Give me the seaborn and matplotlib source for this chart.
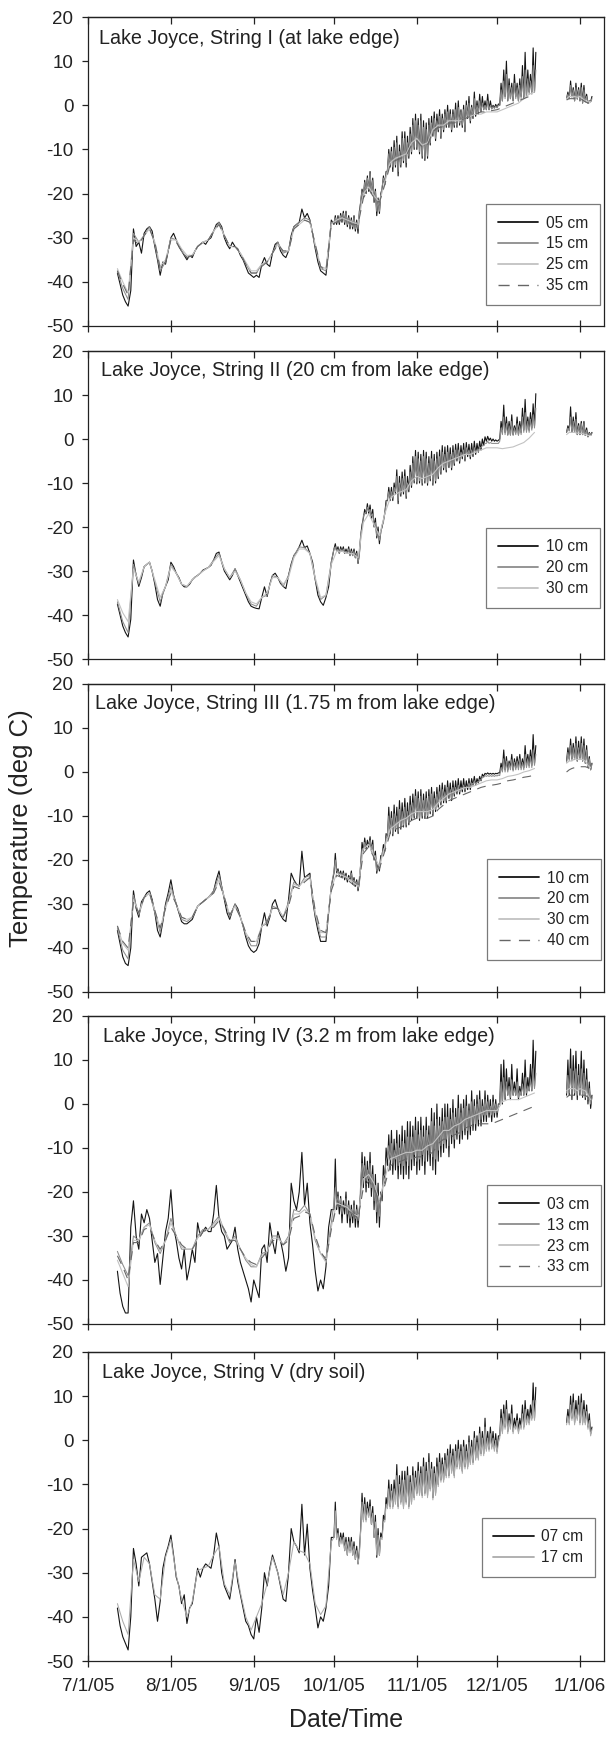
import numpy as np
import pandas as pd
import matplotlib
matplotlib.use("Agg")
import matplotlib.pyplot as plt
import matplotlib.dates as mdates
from matplotlib.lines import Line2D
from matplotlib.ticker import FuncFormatter
import seaborn as sns

sns.set_theme(style="white")
plt.rcParams["font.family"] = ["Liberation Sans", "DejaVu Sans"]
plt.rcParams["text.color"] = "#222222"
plt.rcParams["axes.labelcolor"] = "#222222"
plt.rcParams["axes.unicode_minus"] = False

# ---------------- data (deg C), days counted from 7/1/05 ----------------
BASE = "2005-07-01"
WIN_DAYS = np.arange(11, 92)          # daily values, polar winter
SPR_DAYS = np.arange(92, 168)         # daily lows / highs, spring
JAN_DAYS = np.arange(179, 189)        # daily lows / highs after the gap
WIN_DAYS2 = np.arange(11, 92, 2)      # deeper sensors, winter
SPR_DAYS2 = np.arange(93, 168, 2)     # deepest sensors, spring

TITLES = ["Lake Joyce, String I (at lake edge)",
          "Lake Joyce, String II (20 cm from lake edge)",
          "Lake Joyce, String III (1.75 m from lake edge)",
          "Lake Joyce, String IV (3.2 m from lake edge)",
          "Lake Joyce, String V (dry soil)"]
LABELS = [["05 cm", "15 cm", "25 cm", "35 cm"],
          ["10 cm", "20 cm", "30 cm"],
          ["10 cm", "20 cm", "30 cm", "40 cm"],
          ["03 cm", "13 cm", "23 cm", "33 cm"],
          ["07 cm", "17 cm"]]

# ---- String I ----
P1_05_WIN = [-38, -40.5, -43, -44.5, -45.5, -42, -28, -32, -31, -33.5,
             -29, -28, -27.5, -28.5, -32, -35, -38.5, -35.5, -36, -33,
             -30, -29, -30.5, -32, -33, -34, -35, -34, -34.5, -33,
             -32, -31.5, -31, -31.5, -30.5, -30, -28.5, -27, -26.5, -27.5,
             -30, -31.5, -32.5, -31, -32, -32.5, -34, -35, -36.5, -38,
             -38.5, -39, -38.5, -39, -36, -34.5, -36, -36.5, -33.5, -31.5,
             -31, -33, -34, -34.5, -33, -29.5, -27.5, -27, -26.5, -23.5,
             -25.5, -24.5, -26, -29, -32.5, -35.5, -37.5, -38, -38.5, -33,
             -26]
P1_05_LO = [-27, -27, -27, -26.5, -27, -27.5, -28, -28, -28.5, -29,
            -22, -21, -20, -19.5, -20, -22, -25, -24.5, -19, -18,
            -15, -14, -15, -14, -16, -14, -13, -14, -12, -11,
            -10, -10, -11, -12, -12.5, -12, -9, -7, -8, -6,
            -7.5, -6, -5, -5, -6, -5, -5, -4.5, -5, -6,
            -3, -4, -3, -2.5, -2, -1.5, -1, -1, -1, -0.8,
            -0.6, -0.5, 0, 1, 2, 1, 1.5, 1, 2, 1,
            2, 1.5, 2, 3, 3, 3]
P1_05_HI = [-25, -25, -24.5, -24, -24, -25, -25.5, -25, -26, -24,
            -19, -17, -16, -15, -16.5, -19, -21, -20, -16, -15,
            -10, -9.5, -8, -7, -9, -6, -6, -7, -5, -3,
            -2, -3, -2, -3.5, -4, -3, -2.5, -1.5, -2, -1,
            -2, -1, 0, -1, -1, 0.5, 1, -1, 0, 1,
            2, 0, 3, 1, 2.5, 2, 1, 2.5, 1, 0,
            0.2, 0.3, 5, 8, 10, 6, 5, 7, 5, 6,
            9, 12, 8, 7, 13, 12]
P1_05_JLO = [1.5, 1.5, 2, 1, 1.5, 1, 0.5, 0.8, 0.5, 0.8]
P1_05_JHI = [3, 5.5, 4, 5, 4, 5, 4.5, 2.5, 1, 2]
P1_15_WIN = [-37.5, -41.5, -44, -29, -31, -29.5, -27.5, -31.5, -37.5, -35.5,
             -30, -30.5, -33, -34.5, -34, -32, -31, -30.5, -28.5, -26.5,
             -29.5, -32, -32, -33.5, -36, -38, -38, -36, -35.5, -33.5,
             -31, -33.5, -33, -27.5, -26.5, -25.5, -26, -32, -37, -37.5, -26.5]
P1_15_LO = [-26.5, -26.5, -26.5, -26, -26.5, -27, -27.5, -27.5, -28, -28,
            -21.5, -20.5, -19.5, -19, -19.5, -21.5, -24, -24, -18.5, -17.5,
            -14.5, -13.5, -14, -13.5, -15, -13.5, -12.5, -13, -11.5, -10.5,
            -9.5, -9.5, -10.5, -11.5, -12, -11.5, -8.5, -6.5, -7.5, -5.5,
            -7, -5.5, -4.5, -4.5, -5.5, -4.5, -4.5, -4, -4.5, -5.5,
            -2.5, -3.5, -2.5, -2, -1.5, -1.2, -1, -1, -1, -0.8,
            -0.7, -0.6, 0, 1, 1.5, 1, 1.5, 1, 1.5, 1,
            1.5, 1.5, 2, 2.5, 2.5, 3]
P1_15_HI = [-25.5, -25.5, -25, -24.5, -24.5, -25.5, -26, -25.5, -26.5, -25,
            -19.5, -17.5, -16.5, -15.5, -17, -19.5, -21.5, -20.5, -16.5, -15.5,
            -11, -10.5, -9.5, -8.5, -10.5, -7.5, -7.5, -8.5, -6.5, -4.5,
            -3.5, -4.5, -3.5, -5, -5.5, -4.5, -4, -3, -3.5, -2.5,
            -3, -2, -1.5, -2, -2, -1, -0.5, -1.5, -1, 0,
            0.5, -0.5, 1.5, 0, 1, 0.5, 0, 1, 0, -0.3,
            -0.2, 0, 3.5, 5.5, 7, 4.5, 4, 5, 4, 4.5,
            6.5, 8, 6, 5.5, 9, 8]
P1_15_JLO = [1.5, 1.5, 1.8, 1, 1.3, 1, 0.6, 0.8, 0.5, 0.8]
P1_15_JHI = [2.5, 4.5, 3.5, 4, 3.5, 4, 3.5, 2, 1, 1.5]
P1_25_WIN = [-37, -40, -42.5, -30, -31, -29.5, -28, -31, -36.5, -35,
             -30.5, -30.5, -32.5, -34, -34, -32, -31, -30.5, -28.5, -27,
             -29.5, -32, -32, -33.5, -35.5, -37.5, -37.5, -36, -35.5, -33.5,
             -31.5, -33, -33, -28, -27, -26, -26.5, -31.5, -36.5, -37, -27]
P1_25_SPR = [-26, -25.5, -26, -26.5, -27, -20, -18.5, -20.5, -22, -17.5,
             -13, -12, -11.5, -11, -8.5, -7.5, -9, -8.5, -5.5, -4.5,
             -4.5, -3.5, -3.5, -3.5, -3, -2.5, -2, -2, -1.5, -1.5,
             -1.5, -1, -0.5, 0, 0.5, 1.5, 2.5, 3]
P1_25_JAN = [1.5, 2, 2, 2, 1.8, 2, 1.5, 1, 0.8, 0.8]
P1_35_WIN = [-37.5, -40.5, -43, -30.5, -31.5, -29.5, -28, -31, -37, -35.5,
             -30.5, -31, -33, -34.5, -34, -32, -31, -30.5, -28.5, -27,
             -29.5, -32, -32, -33.5, -36, -38, -38, -36.5, -35.5, -33.5,
             -31.5, -33, -33, -28, -27, -26, -26.5, -31.5, -36.5, -37.5, -27]
P1_35_SPR = [-26.5, -26, -26.5, -27, -27, -21, -19, -21, -22, -18,
             -13.5, -12.5, -12, -11.5, -9, -8, -9.5, -9, -6, -5,
             -5, -4, -4, -3.5, -3, -2.5, -2, -1.5, -1.5, -1.2,
             -1, -0.5, 0, 0.5, 1, 1.5, 2, 2.5]
P1_35_JAN = [1.2, 1.5, 1.5, 1.5, 1.3, 1.5, 1.2, 0.8, 0.5, 0.5]

# ---- String II ----
P2_10_WIN = [-37.5, -40, -42.5, -44, -45, -41, -27.5, -31, -33.5, -31.5,
             -29, -28.5, -28, -30, -33, -36.5, -38, -35, -33.5, -32,
             -28, -29, -30.5, -31.5, -33, -33.6, -33.6, -33, -32, -31.4,
             -31, -30.5, -29.8, -29.5, -29.2, -28.7, -27.5, -26, -25.7, -28,
             -30, -31, -32, -31, -29.5, -31, -32.5, -34, -35.5, -37,
             -38, -38.3, -38.5, -38.6, -36, -33.6, -35.8, -33, -31, -30.5,
             -31.5, -32.8, -33.5, -34, -31, -28.4, -26.5, -25.7, -24.5, -23,
             -24.7, -24.3, -26, -28, -32, -35.5, -37, -37.8, -36, -33.6,
             -28]
P2_10_LO = [-25, -25.5, -26, -25.5, -26, -26, -26.5, -26.5, -27, -28.3,
            -22, -18, -17, -17, -18, -20, -22.5, -23.8, -20, -17,
            -14, -14, -14, -12.5, -14.7, -13, -12.5, -13.5, -12, -11,
            -10, -10.2, -10, -10.5, -10, -10.5, -9.5, -10.5, -10, -9,
            -8, -7, -7.5, -6.5, -7, -6, -5, -5.5, -4.5, -5,
            -4, -4.5, -4, -3.5, -3, -2.5, -1.5, -0.5, -0.3, -0.5,
            -0.5, -0.5, 0, 2, 1.5, 1, 1, 1, 1.5, 1,
            1.5, 2, 2, 2, 2.5, 3]
P2_10_HI = [-23.8, -24.5, -24.5, -24.5, -25, -24.5, -25, -25, -25.5, -26,
            -19.5, -16, -14.7, -15, -16, -18, -20, -21, -18.5, -14,
            -11, -11, -10, -7, -8.5, -7.5, -7, -8.5, -6, -4,
            -2.6, -3, -3.5, -2.6, -3, -4, -2.8, -3.5, -3, -2.5,
            -1.5, -1.8, -1.5, -2, -1.5, -1.2, -1, -1.5, -1, -0.8,
            -1.2, -1, -0.5, -1, -0.5, 0, 0.5, 0.6, 0.2, 0,
            -0.2, -0.3, 4, 7.7, 5, 4, 5.5, 3, 5, 4,
            7, 9, 5, 6, 8, 10.3]
P2_10_JLO = [1.5, 2, 1.5, 1.5, 1, 1, 1, 0.8, 0.5, 0.8]
P2_10_JHI = [3, 7.3, 5, 6, 3.5, 4, 4, 2.5, 1.5, 1.5]
P2_20_WIN = [-37, -41.5, -44, -28.5, -33, -29, -28, -32.5, -37, -33.5,
             -28.5, -30.5, -33, -33.5, -32, -31, -30, -29.2, -27.5, -26,
             -29.5, -31.5, -29.5, -32, -35, -37.5, -38, -36, -35.5, -31,
             -31.5, -33.5, -31, -26.5, -24.5, -24.7, -26, -32, -36.5, -35.5, -28]
P2_20_LO = [-25, -25.5, -26, -25.5, -26, -26, -26.5, -26.5, -27, -28,
            -21.5, -17.5, -16.5, -16.5, -17.5, -19.5, -22, -23, -19.5, -16.5,
            -13.5, -13.5, -13.5, -12, -14, -12.5, -12, -13, -11.5, -10.5,
            -9.5, -9.7, -9.5, -10, -9.5, -10, -9, -10, -9.5, -8.5,
            -7.5, -6.5, -7, -6, -6.5, -5.5, -4.5, -5, -4, -4.5,
            -3.5, -4, -3.5, -3, -2.5, -2, -1.5, -1, -1, -1,
            -1, -1, -0.5, 1, 1, 0.8, 0.8, 0.8, 1, 0.8,
            1, 1.5, 1.5, 1.5, 2, 2.5]
P2_20_HI = [-24.5, -25, -25, -25, -25.5, -25, -25.5, -25.5, -26, -26.5,
            -20.5, -17, -15.5, -16, -17, -19, -21, -21.5, -19, -15,
            -12, -12, -11, -8.5, -10, -9, -8.5, -10, -7.5, -5.5,
            -4, -4.5, -5, -4, -4.5, -5.5, -4.5, -5, -4.5, -4,
            -3, -3.5, -3, -3.5, -3, -2.5, -2.5, -3, -2.5, -2,
            -2.5, -2.5, -2, -2.5, -2, -1.5, -1, -0.5, -0.8, -1,
            -1, -1, 2.5, 5, 3.5, 3, 4, 2.5, 3.5, 3,
            5, 6, 4, 4.5, 5.5, 7]
P2_20_JLO = [1.5, 1.8, 1.5, 1.5, 1, 1, 1, 0.8, 0.5, 0.8]
P2_20_JHI = [2.5, 5, 4, 4.5, 3, 3.5, 3.5, 2, 1.3, 1.3]
P2_30_WIN = [-36.5, -39.5, -41.5, -29.5, -32.5, -29, -28, -32, -36, -33.5,
             -29, -30.5, -33, -33.5, -32, -31, -30, -29.2, -27.8, -26.5,
             -29.5, -31.5, -30, -32, -35, -37, -37.5, -36, -35, -31.5,
             -31.5, -33, -31.5, -27, -25, -25, -26, -31.5, -36, -35.5, -28.5]
P2_30_SPR = [-25.5, -25.5, -26, -26, -27, -19, -17, -19.5, -22, -17,
             -13.5, -12.5, -12, -11.5, -9.5, -8.5, -9, -8.5, -8, -6.5,
             -5.5, -5, -4.5, -4, -3.5, -3.5, -3, -2.5, -2, -2,
             -2, -2.2, -2, -1.8, -1.3, -0.8, 0.2, 1.5]
P2_30_JAN = [1, 1.5, 1.5, 1.5, 1.3, 1.3, 1.2, 1, 0.8, 0.8]

# ---- String III ----
P3_10_WIN = [-36, -39, -42, -43.5, -44, -40, -27, -31, -33, -29.5,
             -28.5, -27.5, -27, -29, -32, -36, -37.5, -34, -30, -27.5,
             -24.5, -28, -30, -32, -34, -34.5, -34.5, -34, -33.5, -32,
             -30.5, -30, -29.5, -29, -28.5, -28, -27, -24.5, -22.5, -26,
             -29, -32, -33.5, -31.5, -30, -31, -33, -35, -37.5, -39.5,
             -40.5, -41, -40.5, -39, -35, -32, -35, -33, -30, -29,
             -31, -32.5, -33.5, -34, -29, -23, -24.5, -25.5, -26, -18,
             -24, -23.5, -23, -29, -33, -36, -38.5, -38.5, -38.5, -32,
             -26]
P3_10_LO = [-23, -23, -23.5, -24, -24.5, -25, -24.5, -25.5, -26, -27,
            -21, -18, -17.5, -17, -18, -20, -23, -22.5, -19, -18,
            -15, -14, -14.5, -13.5, -14, -13, -12.5, -12.5, -12, -11,
            -10.5, -10.5, -11, -10.5, -10.5, -10.5, -9.5, -10, -9, -8,
            -7.5, -7, -7, -6, -6.5, -5.5, -5, -5, -4.5, -4.5,
            -4, -4, -3, -3, -2.5, -2, -1, -0.5, -0.5, -0.5,
            -0.5, -0.4, -0.2, 0.5, 0.5, 0.5, 1, 0.5, 1, 1,
            1, 1, 1.5, 1.5, 1.5, 2]
P3_10_HI = [-18.5, -22, -22.5, -22.5, -23, -23.5, -22.5, -24, -24.5, -25,
            -16, -15, -15.5, -14.7, -15.5, -18, -21, -19, -16.5, -14,
            -8, -9, -7.5, -8, -6.5, -7, -6, -7, -5.5, -5,
            -4, -4.5, -4, -5, -4.5, -4, -3.5, -4.5, -3.5, -3,
            -2.5, -3, -2, -2.5, -2, -2, -1.5, -2, -1.5, -2,
            -1.5, -1.5, -1, -1.5, -1, -0.5, -0.3, -0.2, -0.3, -0.3,
            -0.3, -0.2, 2, 5, 3.5, 2.5, 4, 3, 3.5, 4,
            3, 6, 4, 5, 8.5, 6]
P3_10_JLO = [2.5, 3, 3, 3, 2.5, 3, 2.5, 2, 1, 0.5]
P3_10_JHI = [5.5, 7.5, 6.5, 8, 7, 8, 7.5, 6, 3.5, 2]
P3_20_WIN = [-35.5, -40.5, -42.5, -28, -32.5, -28.5, -27.5, -32, -36.5, -30.5,
             -26, -30, -33.5, -34, -33, -30.5, -29.5, -28.5, -27, -23.5,
             -28.5, -33, -30, -33, -37, -39.5, -39.5, -35, -34.5, -30.5,
             -31, -33, -29.5, -25, -26, -24, -23.5, -32.5, -37.5, -37.5, -26]
P3_20_LO = [-22.5, -22.5, -23, -23.5, -24, -24.5, -24, -25, -25.5, -26.5,
            -20.5, -17.5, -17, -16.5, -17.5, -19.5, -22.5, -22, -18.5, -17.5,
            -14, -13.5, -14, -13, -13.5, -12.5, -12, -12, -11.5, -10.5,
            -10, -10, -10.5, -10, -10, -10, -9, -9.5, -8.5, -7.5,
            -7, -6.5, -6.5, -5.5, -6, -5, -4.5, -4.5, -4, -4,
            -3.5, -3.5, -2.8, -2.8, -2.3, -1.8, -1.2, -1, -1, -1,
            -1, -0.9, -0.8, 0, 0, 0, 0.5, 0.2, 0.5, 0.5,
            0.5, 0.5, 1, 1, 1, 1.5]
P3_20_HI = [-20, -22.5, -23, -23, -23.5, -24, -23, -24.5, -25, -25.5,
            -17.5, -16, -16.5, -15.5, -16.5, -19, -21.5, -20, -17.5, -15,
            -10, -10.5, -9.5, -10, -8.5, -9, -8, -9, -7.5, -7,
            -5.5, -6, -5.5, -6.5, -6, -5.5, -5, -6, -5, -4.5,
            -4, -4.5, -3.5, -4, -3.5, -3.5, -3, -3.5, -3, -3.5,
            -2.5, -2.5, -2, -2.3, -1.8, -1.2, -0.8, -0.8, -0.8, -0.8,
            -0.8, -0.7, 1, 3, 2.5, 2, 2.8, 2.2, 2.5, 3,
            2.2, 4, 3, 3.5, 5, 4]
P3_20_JLO = [2.2, 2.6, 2.6, 2.8, 2.4, 2.8, 2.4, 2, 1, 0.5]
P3_20_JHI = [4.5, 6, 5.5, 6.5, 5.5, 6.5, 6, 5, 3, 1.8]
P3_30_WIN = [-35, -39, -40.5, -29, -32, -28.5, -27.5, -31.5, -35.5, -31,
             -27, -30, -33, -33.5, -33, -30.5, -29.5, -28.5, -27.5, -24.5,
             -28.5, -32.5, -30.5, -33, -36.5, -38.5, -38.5, -35, -34, -31,
             -31, -33, -30, -25.5, -26, -24.5, -24, -32, -36.5, -36.5, -26.5]
P3_30_SPR = [-23, -23.5, -24, -25, -26, -17.5, -16.5, -19, -21.5, -17,
             -13, -12, -11, -10.5, -9.5, -9, -9, -9, -8.5, -7,
             -6, -5, -4.5, -4, -3.5, -3.5, -3, -2.5, -2, -1.8,
             -1.8, -1.5, -1, -0.8, -0.5, 0, 0.3, 0.8]
P3_30_JAN = [2, 2.5, 2.5, 3, 2.8, 3, 2.8, 2.5, 1.5, 1]
P3_40_WIN = [-35, -38.5, -40, -29.5, -32, -28.5, -27.5, -31.5, -35.5, -31,
             -27.5, -30, -33, -33.5, -33, -30.5, -29.5, -28.5, -27.5, -25,
             -28.5, -32.5, -30.5, -33, -36.5, -38.5, -38.5, -35.5, -34, -31,
             -31, -33, -30.5, -26, -26.5, -25, -24, -31.5, -36, -36.5, -27]
P3_40_SPR = [-23.5, -24, -24.5, -25.5, -26.5, -18.5, -17, -19.5, -22, -18,
             -14, -13, -12.5, -12, -11, -10.5, -10.5, -10.5, -10, -8.5,
             -7.5, -6.5, -6, -5.5, -5, -4.5, -4, -3.5, -3.2, -3,
             -2.8, -2.5, -2, -1.8, -1.5, -1.2, -1, -0.7]
P3_40_JAN = [0, 0.5, 0.8, 1, 1, 1.2, 1.2, 1.2, 1, 0.5]

# ---- String IV ----
P4_03_WIN = [-38, -43, -46, -47.5, -47.5, -28, -22, -30, -33, -25,
             -27, -24, -26, -31, -36, -34, -41, -35, -29, -26,
             -19.5, -28, -31, -35, -37.5, -33, -40, -37, -33, -36,
             -27, -30, -29, -28, -29, -29, -25, -18.5, -26, -29,
             -30, -33, -32, -31, -28, -33, -36, -38, -40, -42,
             -45, -40, -42, -44, -33, -32, -36, -27, -31, -34,
             -29, -31, -34, -38, -35, -18, -22, -24, -20, -11,
             -23, -18, -27, -32, -38, -42.5, -40, -42, -37, -28,
             -24]
P4_03_LO = [-24, -24, -25, -27, -25, -27, -28, -27, -28, -28,
            -20, -19, -20, -19, -21, -24, -27, -28, -22, -18,
            -14, -15, -16, -15, -17, -16, -17, -16, -17, -15,
            -14, -16, -15, -14, -16, -13, -14, -15, -16, -13,
            -12, -11, -10, -12, -9, -10, -8, -9, -8, -7,
            -8, -7, -6, -6, -5, -5, -4, -4, -3, -4,
            -3, -3, 0, 0, 1, 2, 1, 2, 2, 1,
            2, 2, 2, 3, 3, 4]
P4_03_HI = [-12.5, -20, -21, -22, -20, -22, -23, -22, -23, -24,
            -11, -12, -13, -11, -14, -16, -18, -20, -14, -10,
            -7, -6, -8, -6, -7, -5, -6, -4, -4, -5,
            -3, -4, -3, -5, -3, -5, -1, -2, 0, -3,
            -1, 0, 0, -1, 1, -1, 2, 0, 1, 2,
            0, 3, 1, 2, 3, 1, 3, 2, 1, 2,
            1, 0, 9, 10, 8, 6, 9, 5, 8, 4,
            7, 10, 6, 9, 14.5, 12]
P4_03_JLO = [2, 2, 1, 2, 1, 2, 1.5, 1, 0, -1]
P4_03_JHI = [10, 12.5, 11, 12, 9, 12, 10, 8, 5, 2]
P4_13_WIN = [-33.5, -36.5, -39, -30, -31, -28, -27, -31.5, -34, -31,
             -26, -30, -33, -33, -33, -30, -28.5, -28.5, -27, -25.5,
             -29, -31.5, -30, -33, -35.5, -37, -37, -34, -33.5, -30,
             -30, -32, -30, -24, -24.5, -23, -25, -31, -34, -35, -27]
P4_13_LO = [-22.5, -22.5, -23, -25, -23.5, -25, -26, -25.5, -26, -26.5,
            -18, -16.5, -17.5, -17, -19, -22, -24.5, -25.5, -20, -16,
            -12, -12.5, -13.5, -12.5, -14, -13.5, -14, -13, -14, -12.5,
            -11.5, -13, -12.5, -11.5, -13, -10.5, -11, -12, -12.5, -10.5,
            -9.5, -9, -8, -9.5, -7, -8, -6, -7, -6, -5.5,
            -6, -5, -4.5, -4.5, -3.5, -3.5, -2.5, -2.5, -2, -2.5,
            -2, -2, 0.5, 0.5, 1.5, 2, 1.5, 2, 2, 1.5,
            2, 2, 2.5, 3, 3, 3.5]
P4_13_HI = [-19, -21, -21.5, -23, -21.5, -23, -24, -23, -24, -24.5,
            -13.5, -14, -15, -13.5, -16, -18.5, -21, -22, -16.5, -13,
            -9.5, -9, -10.5, -9, -10, -8.5, -9, -7.5, -7.5, -7.5,
            -6, -7, -6, -7.5, -6, -7, -4, -5, -3.5, -5,
            -4, -3, -3, -3.5, -2, -3, -1, -2, -1, -0.5,
            -1.5, 0.5, -0.5, 0, 1, -0.5, 1, 0.5, -0.5, 0.5,
            0, -0.5, 5, 6, 5, 4, 5.5, 3.5, 5, 3,
            4.5, 6, 4, 5.5, 8, 7]
P4_13_JLO = [2.5, 2.5, 2, 2.5, 2, 2.5, 2, 1.5, 1, 0]
P4_13_JHI = [6.5, 8, 7.5, 8, 6.5, 8, 7, 5.5, 3.5, 1.5]
P4_23_WIN = [-35.5, -38.5, -41.5, -31, -31, -28, -27.5, -31, -33.5, -31,
             -27, -30, -32.5, -33, -33, -30.5, -29, -28.5, -27.5, -26,
             -28.5, -31, -30.5, -33, -35, -36.5, -37, -34.5, -33.5, -30.5,
             -30.5, -32, -30.5, -25, -25, -24, -25, -30.5, -34, -36, -28]
P4_23_SPR = [-22.5, -23, -23.5, -25, -25.5, -17, -16, -18, -22, -17,
             -12.5, -12, -11.5, -11, -11, -10.5, -10.5, -9.5, -9, -7.5,
             -6, -6, -5, -4.5, -3.5, -3, -2.5, -2, -1.5, -1.5,
             -1.5, 0.5, 1, 1, 1, 1.5, 2, 2.5]
P4_23_JAN = [3, 3.5, 3.5, 3.5, 3, 3.5, 3.2, 3, 2, 1]
P4_33_WIN = [-34.5, -37, -40, -31.5, -31.5, -28.5, -28, -31, -33, -31,
             -28, -30, -32, -33, -33, -31, -29, -28.5, -28, -26.5,
             -28.5, -31, -31, -33, -35, -36, -36.5, -35, -33.5, -31,
             -31, -32, -31, -26, -25.5, -24.5, -25, -30, -33.5, -35.5, -28.5]
P4_33_SPR = [-23, -23.5, -24, -25, -26, -19, -17.5, -19, -22.5, -18.5,
             -14, -13.5, -13, -12.5, -12.5, -12, -12, -11.5, -11, -9,
             -8, -8, -7, -6.5, -5.5, -5, -4.5, -4.5, -4.5, -4.5,
             -4, -3.5, -3, -2.5, -2, -1.5, -1, -0.5]
P4_33_JAN = [1.5, 2, 2, 2, 2, 2, 2, 2, 1.5, 1]

# ---- String V ----
P5_07_WIN = [-38, -42, -44.5, -46, -47.5, -40, -24.5, -28, -33, -26.5,
             -26, -25.5, -28, -32, -36, -41, -36.5, -29, -26, -24,
             -21.5, -26, -31, -33, -37, -35, -41.5, -38, -37, -33,
             -29, -31, -29, -28, -28.5, -29, -26, -21, -24, -30,
             -33, -34.5, -36, -32, -27, -32, -35, -38, -41, -42,
             -44, -45, -40, -43.5, -38, -30, -33, -29, -26, -28,
             -30, -33, -36, -36.5, -30, -20, -23, -24, -25.5, -14.5,
             -26, -19, -29, -34, -38, -42.5, -40, -41, -38, -33,
             -22]
P5_07_LO = [-22, -22, -24, -23, -25, -26, -25, -26, -27, -28,
            -20, -18, -18, -17, -19, -22, -26.5, -26, -22, -18,
            -15, -15, -15, -14, -15, -14, -15, -14, -15, -14,
            -13, -12, -12, -12.5, -12, -12.5, -11, -13, -12, -10,
            -9, -9, -8, -8, -7, -8, -6, -6, -7, -6,
            -6, -5, -5, -4, -4, -3, -3, -2, -2, -1.5,
            -2, -2.5, 1, 2, 3, 2, 3, 2, 3, 2,
            3, 3, 4, 4, 5, 5]
P5_07_HI = [-14, -20, -21, -21, -22, -22, -22, -23, -24, -25,
            -12, -13, -14, -13.5, -15, -17, -20, -21, -17, -13,
            -9, -10, -9, -5.5, -8, -7, -7, -6, -8, -6,
            -7, -5, -6, -4, -5, -3, -5, -6, -4, -3,
            -4, -3, -2, -1, -2, -1, 0, -1, 0, -1,
            1, 0, 2, 1, 3, 2, 5, 2, 3, 2,
            1.5, 1, 7, 8, 9, 6, 8, 5, 6, 5,
            8, 9, 7, 8, 13, 12]
P5_07_JLO = [4, 4, 5, 4, 5, 4, 4, 4, 3, 1.5]
P5_07_JHI = [7, 10, 10.5, 9, 10, 10.5, 9, 8, 6, 3]
P5_17_WIN = [-37, -41, -44, -27, -32, -26.5, -28, -35, -36, -26.5,
             -22.5, -30.5, -36, -40, -36.5, -29.5, -29, -28.5, -26, -24,
             -32.5, -35, -27.5, -34.5, -40, -43, -40, -37, -32.5, -26.5,
             -30, -35, -30, -23, -25, -25.5, -28, -37, -39.5, -37.5, -23]
P5_17_LO = [-22, -22.5, -24, -23.5, -25, -26, -25.5, -26, -27, -28,
            -20.5, -18.5, -18.5, -17.5, -19, -22, -26, -26, -22.5, -18.5,
            -15.5, -15.5, -15.5, -14.5, -15.5, -14.5, -15.5, -14.5, -15.5, -14.5,
            -13.5, -12.5, -12.5, -13, -12.5, -13, -11.5, -13.5, -12.5, -10.5,
            -9.5, -9.5, -8.5, -8.5, -7.5, -8.5, -6.5, -6.5, -7.5, -6.5,
            -6.5, -5.5, -5.5, -4.5, -4.5, -3.5, -3.5, -2.5, -2.5, -2,
            -2.5, -3, 0.5, 1.5, 2.5, 1.5, 2.5, 1.5, 2.5, 1.5,
            2.5, 2.5, 3.5, 3.5, 4.5, 4.5]
P5_17_HI = [-16, -21, -22, -22, -23, -23, -23, -24, -25, -26,
            -14, -14.5, -15.5, -15, -16.5, -18.5, -21.5, -22, -18.5, -14.5,
            -11, -11.5, -11, -8, -10, -9, -9, -8, -9.5, -8,
            -8.5, -7, -7.5, -6, -7, -5, -6.5, -7.5, -6, -5,
            -5.5, -4.5, -3.5, -3, -3.5, -2.5, -2, -2.5, -1.5, -2.5,
            -0.5, -1.5, 0.5, -0.5, 1.5, 0.5, 3, 0.5, 1.5, 0.5,
            0, -0.5, 5, 6, 7, 4.5, 6, 3.5, 4.5, 3.5,
            6, 7, 5.5, 6, 9, 9]
P5_17_JLO = [3.5, 3.5, 4.5, 3.5, 4.5, 3.5, 3.5, 3.5, 2.5, 1]
P5_17_JHI = [5.5, 8, 8.5, 7, 8, 8.5, 7, 6.5, 4.5, 2.5]

PANELS = [
    [("top", P1_05_WIN, P1_05_LO, P1_05_HI, P1_05_JLO, P1_05_JHI),
     ("osc", P1_15_WIN, P1_15_LO, P1_15_HI, P1_15_JLO, P1_15_JHI),
     ("deep", P1_25_WIN, P1_25_SPR, P1_25_JAN),
     ("deep", P1_35_WIN, P1_35_SPR, P1_35_JAN)],
    [("top", P2_10_WIN, P2_10_LO, P2_10_HI, P2_10_JLO, P2_10_JHI),
     ("osc", P2_20_WIN, P2_20_LO, P2_20_HI, P2_20_JLO, P2_20_JHI),
     ("deep", P2_30_WIN, P2_30_SPR, P2_30_JAN)],
    [("top", P3_10_WIN, P3_10_LO, P3_10_HI, P3_10_JLO, P3_10_JHI),
     ("osc", P3_20_WIN, P3_20_LO, P3_20_HI, P3_20_JLO, P3_20_JHI),
     ("deep", P3_30_WIN, P3_30_SPR, P3_30_JAN),
     ("deep", P3_40_WIN, P3_40_SPR, P3_40_JAN)],
    [("top", P4_03_WIN, P4_03_LO, P4_03_HI, P4_03_JLO, P4_03_JHI),
     ("osc", P4_13_WIN, P4_13_LO, P4_13_HI, P4_13_JLO, P4_13_JHI),
     ("deep", P4_23_WIN, P4_23_SPR, P4_23_JAN),
     ("deep", P4_33_WIN, P4_33_SPR, P4_33_JAN)],
    [("top", P5_07_WIN, P5_07_LO, P5_07_HI, P5_07_JLO, P5_07_JHI),
     ("osc", P5_17_WIN, P5_17_LO, P5_17_HI, P5_17_JLO, P5_17_JHI)],
]

# ---------------- styling ----------------
STYLE_4 = [dict(color="#141414", lw=0.8, ls="-"),
           dict(color="#8c8c8c", lw=0.75, ls="-"),
           dict(color="#c2c2c2", lw=0.8, ls="-"),
           dict(color="#666666", lw=0.8, ls=(0, (8, 6)))]
STYLE_5 = [STYLE_4[0], dict(color="#ababab", lw=0.75, ls="-")]

AX_LEFT, AX_W = 88 / 609, 516 / 609
AX_PIX = [(17, 326), (351, 659), (684, 992), (1016, 1324), (1352, 1661)]
TITLE_POS = [(0.021, 0.932), (0.025, 0.938), (0.014, 0.938), (0.030, 0.935), (0.027, 0.935)]
LEG_POS = [(0.992, 0.068), (0.992, 0.166), (0.994, 0.104), (0.994, 0.123), (0.983, 0.272)]
FIG_H = 1739


def pair(a, b, days):
    n = min(len(a), len(b), len(days))
    if not (len(a) == len(b) == len(days)):
        print("length mismatch", len(a), len(b), len(days))
    t = np.column_stack([days[:n], days[:n] + 0.5]).ravel()
    v = np.column_stack([np.asarray(a[:n], float), np.asarray(b[:n], float)]).ravel()
    return t, v


def trim(days, vals):
    n = min(len(days), len(vals))
    if len(days) != len(vals):
        print("length mismatch", len(days), len(vals))
    return np.asarray(days[:n], float), np.asarray(vals[:n], float)


def series_frame(spec):
    kind = spec[0]
    if kind in ("top", "osc"):
        _, win, lo, hi, jlo, jhi = spec
        t0, v0 = trim(WIN_DAYS if kind == "top" else WIN_DAYS2, win)
        t1, v1 = pair(lo, hi, SPR_DAYS)
        t2, v2 = pair(jlo, jhi, JAN_DAYS)
    else:
        _, win, spr, jan = spec
        t0, v0 = trim(WIN_DAYS2, win)
        t1, v1 = trim(SPR_DAYS2, spr)
        t2, v2 = trim(JAN_DAYS, jan)
    a_t, a_v = np.concatenate([t0, t1]), np.concatenate([v0, v1])
    t = np.concatenate([a_t, t2])
    v = np.concatenate([a_v, v2])
    seg = np.concatenate([np.zeros(len(a_t), int), np.ones(len(t2), int)])
    dates = pd.Timestamp(BASE) + pd.to_timedelta(t, unit="D")
    return pd.DataFrame({"date": dates, "temp": v, "seg": seg})


TICKS = pd.date_range("2005-07-01", "2006-01-01", freq="MS")
XLIM = (pd.Timestamp("2005-07-01"), pd.Timestamp("2006-01-10"))


def fmt_date(x, pos=None):
    d = mdates.num2date(x)
    return f"{d.month}/{d.day}/{d.strftime('%y')}"


fig = plt.figure(figsize=(6.09, 17.39), dpi=100)
axes = []
for i, (specs, labels) in enumerate(zip(PANELS, LABELS)):
    top_px, bot_px = AX_PIX[i]
    ax = fig.add_axes([AX_LEFT, 1 - bot_px / FIG_H, AX_W, (bot_px - top_px) / FIG_H],
                      sharex=axes[0] if axes else None)
    axes.append(ax)
    styles = STYLE_5 if len(specs) == 2 else STYLE_4
    handles = []
    for spec, st, lab in zip(specs, styles, labels):
        df = series_frame(spec)
        sns.lineplot(data=df, x="date", y="temp", units="seg", estimator=None,
                     color=st["color"], lw=st["lw"], linestyle=st["ls"],
                     legend=False, ax=ax)
        handles.append(Line2D([], [], color=st["color"], lw=1.3 if st["ls"] == "-" else 1.0,
                              linestyle=st["ls"], label=lab))
    ax.set_ylim(-50, 20)
    ax.set_yticks(np.arange(-50, 21, 10))
    ax.set_xlim(*XLIM)
    ax.set_xticks(TICKS)
    ax.xaxis.set_major_formatter(FuncFormatter(fmt_date))
    ax.set_xlabel("")
    ax.set_ylabel("")
    for sp in ax.spines.values():
        sp.set_visible(True)
        sp.set_color("#222222")
        sp.set_linewidth(0.9)
    ax.tick_params(axis="y", which="major", left=True, right=False, direction="out",
                   length=4.5, width=0.9, color="#222222", labelsize=13.5, pad=6,
                   labelcolor="#222222")
    ax.tick_params(axis="x", which="major", bottom=True, top=False, direction="inout",
                   length=8.5, width=0.9, color="#222222", labelsize=13.5, pad=8,
                   labelcolor="#222222", labelbottom=(i == len(PANELS) - 1))
    sec = ax.secondary_xaxis("top")
    sec.set_xticks(mdates.date2num(TICKS))
    sec.tick_params(axis="x", direction="in", length=5, width=0.9, color="#222222",
                    labeltop=False)
    sec.spines["top"].set_color("#222222")
    sec.spines["top"].set_linewidth(0.9)
    ax.text(TITLE_POS[i][0], TITLE_POS[i][1], TITLES[i], transform=ax.transAxes,
            fontsize=14.2, ha="left", va="center", color="#222222")
    leg = ax.legend(handles=handles, loc="lower right", bbox_to_anchor=LEG_POS[i],
                    borderaxespad=0, frameon=True, fancybox=False, framealpha=1,
                    edgecolor="#7a7a7a", fontsize=11.2, handlelength=2.6,
                    handletextpad=0.5, labelspacing=0.38, borderpad=0.75)
    leg.get_frame().set_linewidth(0.9)

fig.text(21 / 609, 1 - 828 / FIG_H, "Temperature (deg C)", rotation=90,
         ha="center", va="center", fontsize=18.5, color="#222222")
fig.text(346 / 609, 1 - 1720 / FIG_H, "Date/Time", ha="center", va="center",
         fontsize=18, color="#222222")

fig.savefig("out.png", dpi=100)
